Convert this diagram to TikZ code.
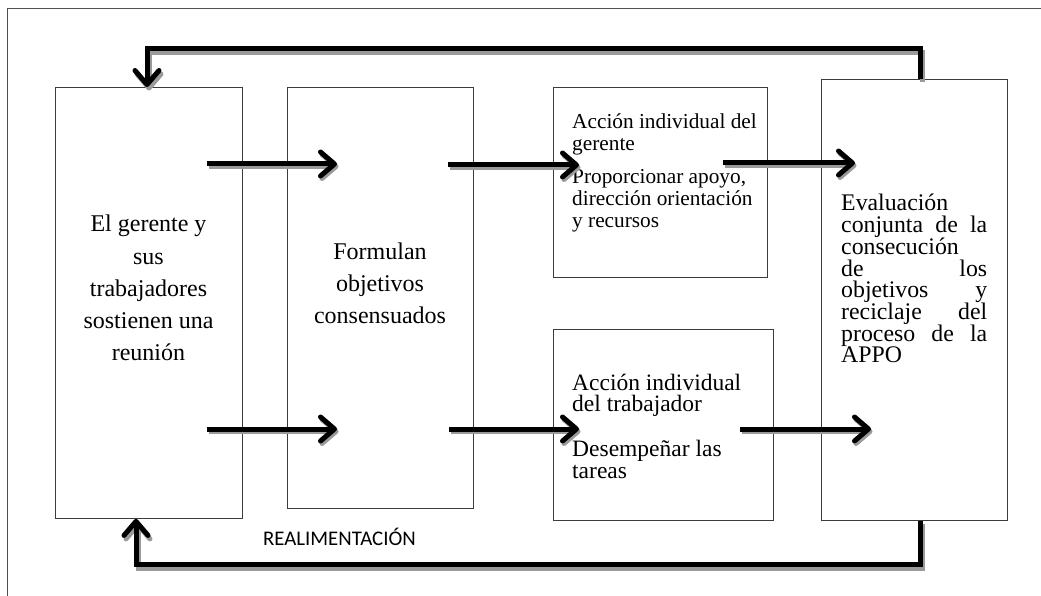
\documentclass[tikz,border=0pt]{standalone}
\usepackage{fontspec}
\setmainfont{Liberation Serif}
\newfontfamily\labelsans{Carlito}
\usetikzlibrary{arrows.meta}

\definecolor{boxline}{HTML}{3C3C3C}
\definecolor{frameline}{HTML}{505050}
\definecolor{shade}{HTML}{9A9A9A}
\newcommand\tightlines{\lineskiplimit-20pt\relax}
% a fully justified line of the evaluation box
\newcommand\fullline[1]{\makebox[146pt][l]{#1}}

\begin{document}
\begin{tikzpicture}[x=1pt,y=-1pt,
  box/.style={draw=boxline, line width=0.9pt, anchor=north west, inner sep=0pt},
  txt/.style={inner sep=0pt, text=black},
  chevron/.style={-{Straight Barb[length=14pt, width=24pt, round]}},
  flow/.style={line width=5pt, chevron,
    preaction={draw=shade, line width=5pt, transform canvas={shift={(1.5pt,-2.5pt)}}}},
  loopback/.style={line width=5pt, line join=miter, chevron,
    preaction={draw=shade, line width=5pt, line join=miter, transform canvas={shift={(2pt,-3.5pt)}}}}
]
\useasboundingbox (0,0) rectangle (1041,596);

% outer frame
\draw[frameline, line width=1pt] (7,596) -- (7,9) -- (1041,9);

% process boxes
\node[box, minimum width=187pt, minimum height=431pt] (b1) at (55,87) {};
\node[box, minimum width=186pt, minimum height=421pt] (b2) at (287,87) {};
\node[box, minimum width=214pt, minimum height=190pt] (b3) at (553,87) {};
\node[box, minimum width=220pt, minimum height=191pt] (b4) at (553,329) {};
\node[box, minimum width=186pt, minimum height=441pt] (b5) at (821,79) {};

% box texts
\node[txt, anchor=north, align=center, font={\fontsize{24}{32.1}\selectfont}] (t1) at (148.5,212.5)
  {\rule{0pt}{0.8em}El gerente y\\ sus\\ trabajadores\\ sostienen una\\ reunión};
\node[txt, anchor=north, align=center, font={\fontsize{24}{32}\selectfont}] (t2) at (380,239.8)
  {\rule{0pt}{0.8em}Formulan\\ objetivos\\ consensuados};
\node[txt, anchor=north west, align=left, font={\fontsize{21.3}{22}\selectfont}] (t3) at (572,111)
  {\rule{0pt}{0.8em}Acción individual del\\ gerente\\[11pt] Proporcionar apoyo,\\ dirección orientación\\ y recursos};
\node[txt, anchor=north west, align=left, font={\fontsize{23.5}{21.3}\selectfont\tightlines}] (t4) at (572,371.2)
  {\rule{0pt}{0.8em}Acción individual\\ del trabajador\\[24pt] Desempeñar las\\ tareas};
\node[txt, anchor=north west, align=left, text width=146pt,
      font={\fontsize{23.8}{21.7}\selectfont\tightlines}] (t5) at (841,191.7)
  {\rule{0pt}{0.8em}Evaluación\\
   \fullline{conjunta\hfill de\hfill la}\\
   consecución\\
   \fullline{de\hfill los}\\
   \fullline{objetivos\hfill y}\\
   \fullline{reciclaje\hfill del}\\
   \fullline{proceso\hfill de\hfill la}\\
   APPO};
\node[txt, anchor=base west, font={\labelsans\fontsize{20.8}{24}\selectfont}] (fb) at (263,545.5) {REALIMENTACIÓN};

% connector end points
\coordinate (a1s) at (207,164); \coordinate (a1e) at (337,164);
\coordinate (a2s) at (207,429); \coordinate (a2e) at (337,429);
\coordinate (a3s) at (448,165); \coordinate (a3e) at (579,165);
\coordinate (a4s) at (449,429); \coordinate (a4e) at (579,429);
\coordinate (a5s) at (723,163); \coordinate (a5e) at (855,163);
\coordinate (a6s) at (740,429); \coordinate (a6e) at (871,429);

\draw[flow] (a1s) -- (a1e);
\draw[flow] (a2s) -- (a2e);
\draw[flow] (a3s) -- (a3e);
\draw[flow] (a4s) -- (a4e);
\draw[flow] (a5s) -- (a5e);
\draw[flow] (a6s) -- (a6e);

% feedback loops from the evaluation box back to the meeting
\coordinate (u1) at (920,49); \coordinate (u2) at (147,49);
\coordinate (d1) at (920,564.5); \coordinate (d2) at (136,564.5);
\draw[loopback] (b5.north -| u1) -- (u1) -- (u2) -- (u2 |- b1.north);
\draw[loopback] (b5.south -| d1) -- (d1) -- (d2) -- (d2 |- b1.south);
\end{tikzpicture}
\end{document}
